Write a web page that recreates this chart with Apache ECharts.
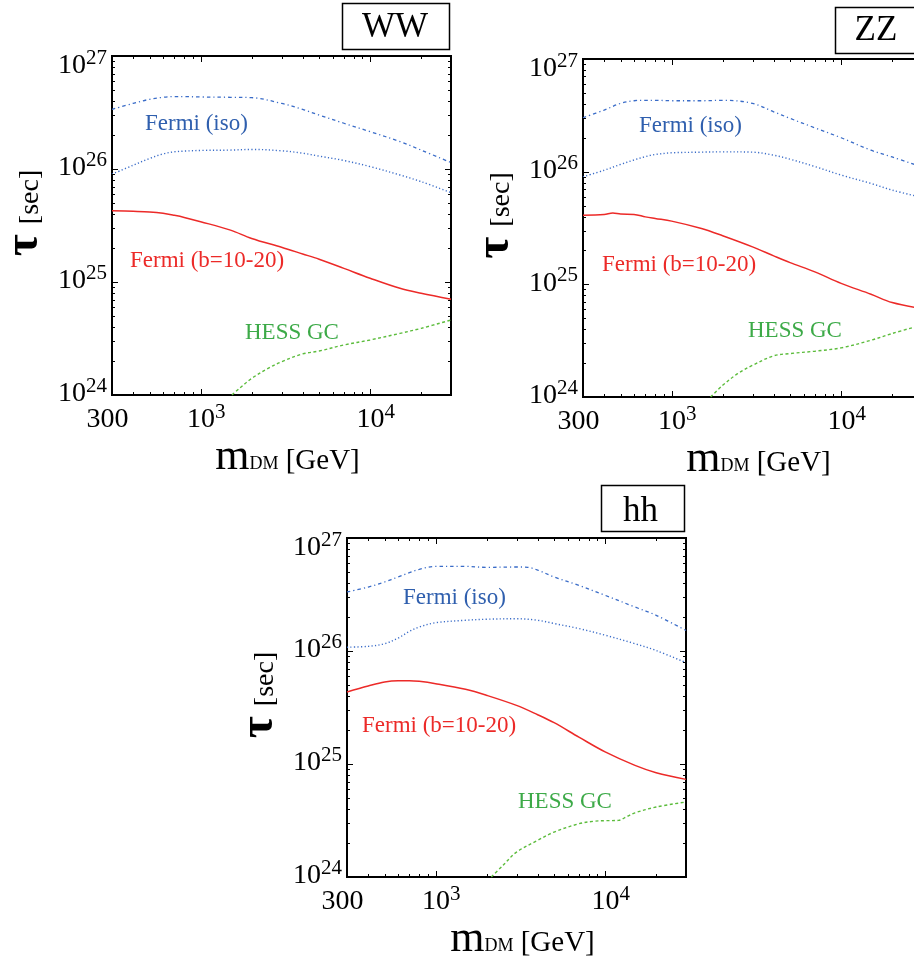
<!DOCTYPE html>
<html>
<head>
<meta charset="utf-8">
<script src="https://cdn.jsdelivr.net/npm/echarts@6/dist/echarts.min.js"></script>
<style>
html,body{margin:0;padding:0;background:#fff;}
#chart{width:914px;height:959px;}
</style>
</head>
<body>
<div id="chart"></div>
<script>
// ---------------- data ----------------
const mass = [300,400,500,600,700,800,1000,1500,2000,3000,4000,5000,7000,10000,15000,20000,30000];

// WW
const wwIsoUpper = [3.37e26,3.81e26,4.14e26,4.31e26,4.37e26,4.37e26,4.34e26,4.31e26,4.28e26,3.81e26,3.37e26,3.0e26,2.54e26,2.14e26,1.75e26,1.47e26,1.14e26];
const wwIsoLower = [9.0e25,1.08e26,1.24e26,1.36e26,1.42e26,1.44e26,1.46e26,1.47e26,1.49e26,1.45e26,1.38e26,1.30e26,1.19e26,1.05e26,8.85e25,7.73e25,6.18e25];
const wwFermiB   = [4.28e25,4.22e25,4.16e25,4.05e25,3.89e25,3.73e25,3.42e25,2.88e25,2.43e25,2.03e25,1.77e25,1.59e25,1.32e25,1.08e25,8.79e24,7.94e24,7.03e24];
const wwHessMass = [1530,1700,2000,2500,3000,4000,5000,7000,10000,15000,20000,30000];
const wwHess     = [1.0e24,1.15e24,1.40e24,1.72e24,1.97e24,2.31e24,2.45e24,2.77e24,3.07e24,3.51e24,3.89e24,4.61e24];

// ZZ
const zzIsoUpper = [3.01e26,3.52e26,4.04e26,4.26e26,4.30e26,4.30e26,4.26e26,4.26e26,4.30e26,4.04e26,3.40e26,2.97e26,2.45e26,2.00e26,1.55e26,1.35e26,1.10e26];
const zzIsoLower = [9.0e25,1.03e26,1.16e26,1.27e26,1.36e26,1.42e26,1.47e26,1.49e26,1.50e26,1.49e26,1.40e26,1.29e26,1.11e26,9.33e25,7.86e25,6.86e25,5.9e25];
const zzFermiBMass = [300,400,450,500,600,700,800,1000,1500,2000,3000,4000,5000,7000,10000,15000,20000,30000];
const zzFermiB   = [4.11e25,4.17e25,4.29e25,4.20e25,4.17e25,3.97e25,3.84e25,3.64e25,3.13e25,2.70e25,2.15e25,1.79e25,1.56e25,1.29e25,1.02e25,8.17e24,6.89e24,6.1e24];
const zzHessMass = [1700,2000,2450,3000,4000,5000,7000,10000,15000,20000,30000];
const zzHess     = [1.0e24,1.27e24,1.61e24,1.91e24,2.32e24,2.43e24,2.55e24,2.73e24,3.19e24,3.66e24,4.36e24];

// hh
const hhIsoUpperMass = [300,400,500,600,700,800,1000,1500,2000,3000,3500,4000,5000,7000,10000,15000,20000,30000];
const hhIsoUpper = [3.33e26,3.68e26,4.08e26,4.52e26,4.94e26,5.28e26,5.61e26,5.61e26,5.50e26,5.54e26,5.50e26,5.20e26,4.52e26,3.81e26,3.11e26,2.45e26,2.07e26,1.52e26];
const hhIsoLower = [1.08e26,1.10e26,1.16e26,1.30e26,1.49e26,1.63e26,1.78e26,1.87e26,1.91e26,1.93e26,1.87e26,1.75e26,1.58e26,1.38e26,1.16e26,1.01e26,7.88e25];
const hhFermiB   = [4.34e25,4.90e25,5.32e25,5.46e25,5.46e25,5.39e25,5.14e25,4.58e25,4.05e25,3.30e25,2.73e25,2.32e25,1.73e25,1.28e25,9.73e24,8.38e24,7.31e24];
const hhHessMass = [2130,2500,3000,4000,5000,7000,8500,10000,12000,13500,15000,20000,30000];
const hhHess     = [1.0e24,1.27e24,1.66e24,2.11e24,2.50e24,2.96e24,3.11e24,3.15e24,3.17e24,3.44e24,3.70e24,4.16e24,4.61e24];

// ticks
const xLabelValues = [300,1000,10000];
const xMajorTicks = [1000,10000];
const xMinorTicks = [400,500,600,700,800,900,2000,3000,4000,5000,6000,7000,8000,9000,20000];
const yLabelValues = [1e24,1e25,1e26,1e27];
const yMajorTicks = [1e25,1e26];
const yMinorTicks = [2e24,3e24,4e24,5e24,6e24,7e24,8e24,9e24,2e25,3e25,4e25,5e25,6e25,7e25,8e25,9e25,2e26,3e26,4e26,5e26,6e26,7e26,8e26,9e26];

const panelTitles = ['WW','ZZ','hh'];
const labelIso = 'Fermi (iso)';
const labelB = 'Fermi (b=10-20)';
const labelHess = 'HESS GC';

// ---------------- style ----------------
const FONT = "'Liberation Serif','DejaVu Serif','Times New Roman',serif";
const BLUE_LINE = '#3a6cc8';
const BLUE_TEXT = '#2f5fae';
const RED = '#ec2a28';
const GREEN_LINE = '#5cbc3c';
const GREEN_TEXT = '#3daa48';
const X_MIN = 300, X_MAX = 30000, Y_MIN = 1e24, Y_MAX = 1e27;

const grids = [
  {left:112, top:56, width:339, height:339},
  {left:583, top:59, width:339, height:338},
  {left:347, top:538, width:339, height:339}
];

const supRich = {
  b:{fontSize:28, fontFamily:FONT, color:'#000', verticalAlign:'bottom', lineHeight:28},
  s:{fontSize:21, fontFamily:FONT, color:'#000', verticalAlign:'bottom', lineHeight:21, padding:[0,0,11,0]},
  h:{width:0, lineHeight:50, verticalAlign:'bottom'},
  n:{fontSize:28, fontFamily:FONT, color:'#000', verticalAlign:'bottom', lineHeight:28},
  q:{width:11, height:1, verticalAlign:'bottom'},
  qs:{width:9, height:1, verticalAlign:'bottom'}
};

function expOf(v){ return Math.round(Math.log10(v)); }
function xFormatter(v){
  const e = expOf(v);
  if (Math.abs(v - Math.pow(10,e)) / v < 1e-6) return '{q|}{b|10}{s|' + e + '}';
  return '{n|' + Math.round(v) + '}{qs|}';
}
function yFormatter(v){
  const e = expOf(v);
  if (e === 27) return '{b|10}{s|' + e + '}{h|}';
  return '{b|10}{s|' + e + '}';
}

const xNameRich = {
  p:{width:12, height:1, verticalAlign:'bottom'},
  m:{fontSize:44, fontFamily:FONT, color:'#000', verticalAlign:'bottom'},
  d:{fontSize:18, fontFamily:FONT, color:'#000', verticalAlign:'bottom', padding:[0,0,6,0]},
  g:{fontSize:29, fontFamily:FONT, color:'#000', verticalAlign:'bottom', padding:[0,0,3,0]}
};
const yNameRich = {
  p:{width:25, height:1, verticalAlign:'bottom'},
  t:{fontSize:48, fontWeight:'bold', fontFamily:FONT, color:'#000', verticalAlign:'bottom'},
  sp:{width:10, height:1, verticalAlign:'bottom'},
  c:{fontSize:28, fontFamily:FONT, color:'#000', verticalAlign:'bottom', padding:[0,0,4,0]}
};

// label values nudged just inside the extent so edge labels are kept
const eps = 1 - 1e-9;
const xLabelCustom = xLabelValues.map(v => v === X_MIN ? v / eps : (v === X_MAX ? v * eps : v));
const yLabelCustom = yLabelValues.map(v => v === Y_MIN ? v / eps : (v === Y_MAX ? v * eps : v));

const xAxes = [], yAxes = [];
grids.forEach((g, gi) => {
  xAxes.push({gridIndex:gi, type:'log', logBase:10, min:X_MIN, max:X_MAX, position:'bottom',
    axisLine:{show:false}, splitLine:{show:false}, axisTick:{show:false}, minorTick:{show:false},
    axisLabel:{show:true, customValues:xLabelCustom, formatter:xFormatter, margin:11, rich:supRich},
    name:'{p|}{m|m}{d|DM}{g| [GeV]}', nameLocation:'middle', nameGap:40, nameMoveOverlap:false,
    nameTextStyle:{rich:xNameRich}});
  yAxes.push({gridIndex:gi, type:'log', logBase:10, min:Y_MIN, max:Y_MAX, position:'left',
    axisLine:{show:false}, splitLine:{show:false}, axisTick:{show:false}, minorTick:{show:false},
    axisLabel:{show:true, customValues:yLabelCustom, formatter:yFormatter, margin:5, padding:[0,0,2,0], rich:supRich},
    name:'{p|}{t|τ}{sp|}{c|[sec]}', nameLocation:'middle', nameRotate:90, nameGap:63, nameMoveOverlap:false,
    nameTextStyle:{rich:yNameRich}});
});

function pairs(xs, ys){ return xs.map((x,i)=>[x, ys[i]]); }

const panels = [
  {iu:pairs(mass,wwIsoUpper), il:pairs(mass,wwIsoLower), fb:pairs(mass,wwFermiB), hs:pairs(wwHessMass,wwHess)},
  {iu:pairs(mass,zzIsoUpper), il:pairs(mass,zzIsoLower), fb:pairs(zzFermiBMass,zzFermiB), hs:pairs(zzHessMass,zzHess)},
  {iu:pairs(hhIsoUpperMass,hhIsoUpper), il:pairs(mass,hhIsoLower), fb:pairs(mass,hhFermiB), hs:pairs(hhHessMass,hhHess)}
];

const series = [];
panels.forEach((p, gi) => {
  const common = {type:'line', xAxisIndex:gi, yAxisIndex:gi, showSymbol:false, symbol:'none', smooth:0.35, clip:true, silent:true};
  series.push(Object.assign({}, common, {name:labelIso+' upper', data:p.iu, lineStyle:{color:BLUE_LINE, width:1.3, type:[3.5,3,1.2,3]}}));
  series.push(Object.assign({}, common, {name:labelIso+' lower', data:p.il, lineStyle:{color:BLUE_LINE, width:1.4, type:[1.2,2.3]}}));
  series.push(Object.assign({}, common, {name:labelB, data:p.fb, lineStyle:{color:RED, width:1.5, type:'solid'}}));
  series.push(Object.assign({}, common, {name:labelHess, data:p.hs, lineStyle:{color:GREEN_LINE, width:1.4, type:[3,2.5]}}));
});

function txt(text, x, y, color, size, align){
  return {type:'text', x:x, y:y, silent:true, style:{text:text, fill:color, fontSize:size, fontFamily:FONT,
    align:align||'left', verticalAlign:'middle', textAlign:align||'left', textVerticalAlign:'middle'}};
}
function box(x, y, w, h){
  return {type:'rect', shape:{x:x, y:y, width:w, height:h}, silent:true, style:{fill:'#fff', stroke:'#000', lineWidth:1.5}};
}
function seg(x1, y1, x2, y2){
  return {type:'line', silent:true, z:10, shape:{x1:x1, y1:y1, x2:x2, y2:y2}, style:{stroke:'#000', lineWidth:1}};
}

const graphic = [
  box(342.5,3.5,107,46), txt(panelTitles[0], 395, 28, '#000', 35, 'center'),
  box(835.5,7.5,88,46), txt(panelTitles[1], 876, 30.5, '#000', 35, 'center'),
  box(601.5,485.5,83,46), txt(panelTitles[2], 640.5, 512, '#000', 35, 'center'),
  txt(labelIso, 145, 124, BLUE_TEXT, 23), txt(labelB, 130, 261, RED, 23), txt(labelHess, 245, 333, GREEN_TEXT, 23),
  txt(labelIso, 639, 126, BLUE_TEXT, 23), txt(labelB, 602, 265, RED, 23), txt(labelHess, 748, 331, GREEN_TEXT, 23),
  txt(labelIso, 403, 598, BLUE_TEXT, 23), txt(labelB, 362, 726, RED, 23), txt(labelHess, 518, 802, GREEN_TEXT, 23)
];

const chart = echarts.init(document.getElementById('chart'), null, {renderer:'canvas'});
chart.setOption({
  animation:false,
  backgroundColor:'#fff',
  grid: grids.map(g => Object.assign({show:true, borderColor:'#000', borderWidth:2, backgroundColor:'transparent',
    containLabel:false, outerBoundsMode:'none'}, g)),
  xAxis: xAxes,
  yAxis: yAxes,
  series: series,
  graphic: graphic
});

// inward ticks on all four sides, positioned through each grid's own log axes
const tickEls = [];
grids.forEach((g, gi) => {
  const lb = chart.convertToPixel({gridIndex:gi}, [X_MIN, Y_MIN]);
  const rt = chart.convertToPixel({gridIndex:gi}, [X_MAX, Y_MAX]);
  const left = lb[0], bottom = lb[1], right = rt[0], top = rt[1];
  const addX = (vals, len) => vals.forEach(v => {
    const x = Math.round(chart.convertToPixel({gridIndex:gi}, [v, Y_MIN])[0]) + 0.5;
    tickEls.push(seg(x, bottom, x, bottom - len));
    tickEls.push(seg(x, top, x, top + len));
  });
  const addY = (vals, len) => vals.forEach(v => {
    const y = Math.round(chart.convertToPixel({gridIndex:gi}, [X_MIN, v])[1]) + 0.5;
    tickEls.push(seg(left, y, left + len, y));
    tickEls.push(seg(right, y, right - len, y));
  });
  addX(xMajorTicks, 6); addX(xMinorTicks, 3);
  addY(yMajorTicks, 6); addY(yMinorTicks, 3);
});
chart.setOption({graphic: graphic.concat(tickEls)});
</script>
</body>
</html>
